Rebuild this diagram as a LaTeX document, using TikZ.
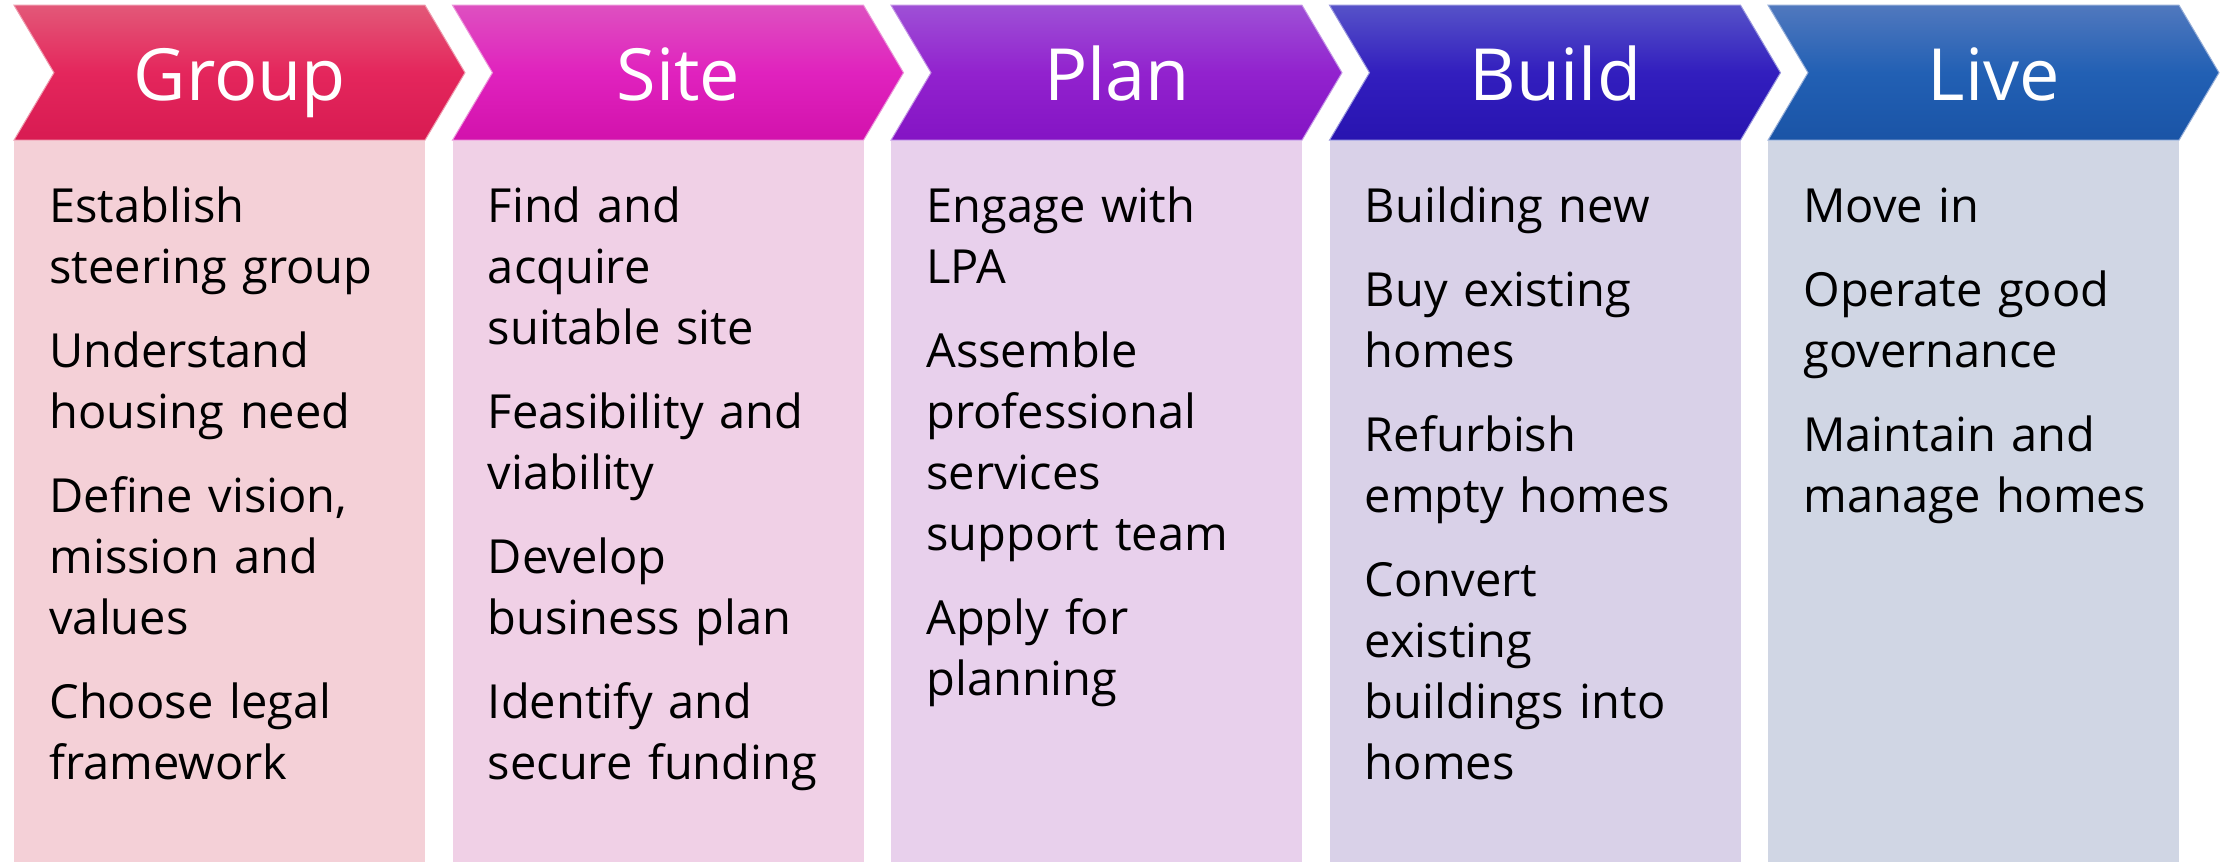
\documentclass[tikz,border=0pt]{standalone}
\usepackage{fontspec}
\setmainfont{Open Sans}

\definecolor{groupTop}{HTML}{E35878}
\definecolor{groupMid}{HTML}{E4265C}
\definecolor{groupBot}{HTML}{D81B52}
\definecolor{groupBg}{HTML}{F4D0D7}
\definecolor{siteTop}{HTML}{DE50C0}
\definecolor{siteMid}{HTML}{E022BE}
\definecolor{siteBot}{HTML}{D212AC}
\definecolor{siteBg}{HTML}{F0D0E6}
\definecolor{planTop}{HTML}{9E50D6}
\definecolor{planMid}{HTML}{9222CE}
\definecolor{planBot}{HTML}{8414C4}
\definecolor{planBg}{HTML}{E8D0EC}
\definecolor{buildTop}{HTML}{5652C8}
\definecolor{buildMid}{HTML}{321EBE}
\definecolor{buildBot}{HTML}{2814B0}
\definecolor{buildBg}{HTML}{D9D1E8}
\definecolor{liveTop}{HTML}{5078BE}
\definecolor{liveMid}{HTML}{2260B4}
\definecolor{liveBot}{HTML}{1A54A6}
\definecolor{liveBg}{HTML}{D0D6E4}

\tikzset{
  box/.style={rectangle, inner sep=0pt, minimum width=205.5pt,
    minimum height=360.5pt, anchor=south west},
  chevron/.style={line width=0.5pt, line join=miter},
  headtext/.style={text=white, font=\fontsize{36}{43}\selectfont,
    anchor=base, inner sep=0pt},
  steps/.style={text width=188pt, align=left, anchor=base west,
    inner sep=0pt, font=\fontsize{23.5}{30.5}\selectfont},
}

\begin{document}
\begin{tikzpicture}[x=0.5pt, y=0.5pt]

  \useasboundingbox (0,0) rectangle (2223,862);

  % column bodies
  \node[box, fill=groupBg] (groupbox) at (14,0)     {};
  \node[box, fill=siteBg]  (sitebox)  at (452.5,0)  {};
  \node[box, fill=planBg]  (planbox)  at (891,0)    {};
  \node[box, fill=buildBg] (buildbox) at (1329.5,0) {};
  \node[box, fill=liveBg]  (livebox)  at (1768,0)   {};

  % chevrons
  \path[chevron, draw=groupTop!60!white, top color=groupTop, bottom color=groupBot, middle color=groupMid]
    (groupbox.north west) -- ++(411,0) -- ++(40,67.5) -- ++(-40,67.5) -- ++(-411,0) -- ++(40,-67.5) -- cycle;
  \path[chevron, draw=siteTop!60!white, top color=siteTop, bottom color=siteBot, middle color=siteMid]
    (sitebox.north west) -- ++(411,0) -- ++(40,67.5) -- ++(-40,67.5) -- ++(-411,0) -- ++(40,-67.5) -- cycle;
  \path[chevron, draw=planTop!60!white, top color=planTop, bottom color=planBot, middle color=planMid]
    (planbox.north west) -- ++(411,0) -- ++(40,67.5) -- ++(-40,67.5) -- ++(-411,0) -- ++(40,-67.5) -- cycle;
  \path[chevron, draw=buildTop!60!white, top color=buildTop, bottom color=buildBot, middle color=buildMid]
    (buildbox.north west) -- ++(411,0) -- ++(40,67.5) -- ++(-40,67.5) -- ++(-411,0) -- ++(40,-67.5) -- cycle;
  \path[chevron, draw=liveTop!60!white, top color=liveTop, bottom color=liveBot, middle color=liveMid]
    (livebox.north west) -- ++(411,0) -- ++(40,67.5) -- ++(-40,67.5) -- ++(-411,0) -- ++(40,-67.5) -- cycle;

  % headings
  \node[headtext] (grouphead) at ([shift={(20,40)}]groupbox.north) {Group};
  \node[headtext] (sitehead)  at ([shift={(20,40)}]sitebox.north)  {Site};
  \node[headtext] (planhead)  at ([shift={(20,40)}]planbox.north)  {Plan};
  \node[headtext] (buildhead) at ([shift={(20,40)}]buildbox.north) {Build};
  \node[headtext] (livehead)  at ([shift={(20,40)}]livebox.north)  {Live};

  % steps
  \node[steps] (groupsteps) at ([shift={(35,-82)}]groupbox.north west)
    {Establish\\steering group\\[11.5pt]Understand\\housing need\\[11.5pt]Define vision,\\mission and\\values\\[11.5pt]Choose legal\\framework};
  \node[steps] (sitesteps) at ([shift={(35,-82)}]sitebox.north west)
    {Find and\\acquire\\suitable site\\[11.5pt]Feasibility and\\viability\\[11.5pt]Develop\\business plan\\[11.5pt]Identify and\\secure funding};
  \node[steps] (plansteps) at ([shift={(35,-82)}]planbox.north west)
    {Engage with\\LPA\\[11.5pt]Assemble\\professional\\services\\support team\\[11.5pt]Apply for\\planning};
  \node[steps] (buildsteps) at ([shift={(35,-82)}]buildbox.north west)
    {Building new\\[11.5pt]Buy existing\\homes\\[11.5pt]Refurbish\\empty homes\\[11.5pt]Convert\\existing\\buildings into\\homes};
  \node[steps] (livesteps) at ([shift={(35,-82)}]livebox.north west)
    {Move in\\[11.5pt]Operate good\\governance\\[11.5pt]Maintain and\\manage homes};

\end{tikzpicture}
\end{document}
